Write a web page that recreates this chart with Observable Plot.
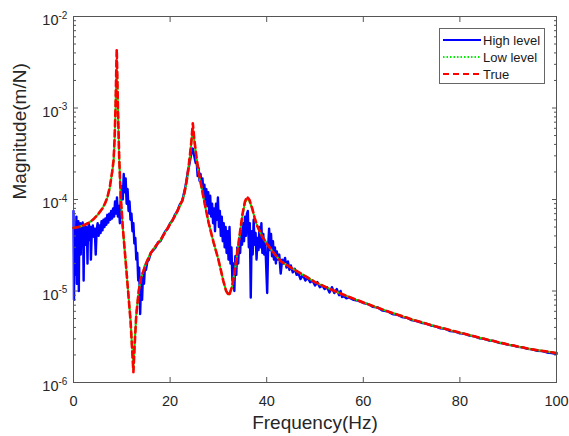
<!DOCTYPE html>
<html><head><meta charset="utf-8">
<script src="https://cdn.jsdelivr.net/npm/d3@7"></script>
<script src="https://cdn.jsdelivr.net/npm/@observablehq/plot@0.6"></script>
<style>
body{margin:0;background:#fff;font-family:"Liberation Sans",Arial,sans-serif;}
#wrap{position:relative;width:569px;height:436px;}
#legend{position:absolute;left:439px;top:28px;width:104px;height:54px;border:1px solid #666;background:#fff;}
.row{position:absolute;left:3px;height:17px;display:flex;align-items:center;font-size:13px;color:#1a1a1a;white-space:nowrap;}
.row svg{margin-right:2px;}
</style></head><body><div id="wrap"></div>
<script>
// ---- data ----
const seriesNames = ["High level", "Low level", "True"];
const xTicks = [0, 20, 40, 60, 80, 100];
const xTickLabels = ["0", "20", "40", "60", "80", "100"];
const yTicks = [1e-6, 1e-5, 1e-4, 1e-3, 1e-2];
const yTickBase = ["10", "10", "10", "10", "10"];
const yTickExp = ["-6", "-5", "-4", "-3", "-2"];
const xLabel = "Frequency(Hz)";
const yLabel = "Magnitude(m/N)";

const smoothFreq = [0,1,2,3,4,5,6,6.5,7,7.5,8,8.3,8.5,8.7,8.85,8.95,9.05,9.2,9.45,9.75,10.2,10.8,11.3,11.8,12.1,12.4,12.7,13,13.5,14,15,16,17,18,19,20,21,22,22.6,23,23.5,24,24.4,24.7,25,25.5,26,27,28,29,30,30.5,31,31.6,32.2,32.8,33.5,34,34.5,35,35.5,35.9,36.4,37,37.5,38,39,40,41,42,43,45,48,50,55,60,65,70,75,80,85,90,95,100];
const trueMag = [4.9e-5,5.0e-5,5.2e-5,5.5e-5,6.0e-5,6.8e-5,8.0e-5,9.0e-5,1.05e-4,1.35e-4,2.0e-4,2.7e-4,4.5e-4,1.0e-3,2.5e-3,4.4e-3,2.5e-3,1.0e-3,3.0e-4,1.15e-4,5.0e-5,2.1e-5,1.0e-5,4.8e-6,2.5e-6,1.3e-6,2.8e-6,5.5e-6,1.0e-5,1.4e-5,2.0e-5,2.6e-5,3.1e-5,3.6e-5,4.4e-5,5.4e-5,6.6e-5,8.5e-5,1.0e-4,1.2e-4,1.7e-4,2.7e-4,4.3e-4,6.8e-4,4.6e-4,2.8e-4,1.9e-4,1.0e-4,5.5e-5,3.4e-5,2.2e-5,1.7e-5,1.3e-5,1.0e-5,8.9e-6,1.1e-5,1.8e-5,2.8e-5,4.5e-5,7.0e-5,9.5e-5,1.07e-4,1.0e-4,8.0e-5,6.3e-5,5.2e-5,4.0e-5,3.3e-5,2.8e-5,2.4e-5,2.1e-5,1.8e-5,1.45e-5,1.25e-5,9.5e-6,7.5e-6,6.0e-6,4.9e-6,4.1e-6,3.5e-6,3.0e-6,2.6e-6,2.3e-6,2.1e-6];
const lowMag = [4.9e-5,5.0e-5,5.2e-5,5.5e-5,6.0e-5,6.8e-5,8.0e-5,9.0e-5,1.04e-4,1.33e-4,1.95e-4,2.6e-4,4.3e-4,9.5e-4,2.2e-3,3.3e-3,2.2e-3,9.5e-4,2.9e-4,1.12e-4,4.9e-5,2.1e-5,1.0e-5,4.9e-6,2.6e-6,1.4e-6,2.9e-6,5.6e-6,1.0e-5,1.4e-5,2.0e-5,2.6e-5,3.1e-5,3.6e-5,4.4e-5,5.4e-5,6.6e-5,8.4e-5,1.0e-4,1.18e-4,1.65e-4,2.6e-4,4.1e-4,6.1e-4,4.4e-4,2.7e-4,1.85e-4,9.8e-5,5.5e-5,3.4e-5,2.2e-5,1.7e-5,1.3e-5,1.0e-5,9.1e-6,1.1e-5,1.8e-5,2.8e-5,4.4e-5,6.8e-5,9.2e-5,1.02e-4,9.7e-5,7.9e-5,6.3e-5,5.2e-5,4.0e-5,3.3e-5,2.8e-5,2.4e-5,2.1e-5,1.8e-5,1.45e-5,1.25e-5,9.5e-6,7.5e-6,6.0e-6,4.9e-6,4.1e-6,3.5e-6,3.0e-6,2.6e-6,2.3e-6,2.1e-6];

const highFreq = [0,0.1,0.2,0.3,0.4,0.5,0.6,0.7,0.8,0.9,1.0,1.1,1.2,1.4,1.5,1.6,1.8,1.9,2.0,2.1,2.2,2.4,2.5,2.6,2.8,2.9,3.0,3.2,3.3,3.5,3.6,3.8,4.0,4.2,4.4,4.6,4.8,5.0,5.2,5.4,5.6,5.8,6.0,6.2,6.4,6.6,6.8,7.0,7.2,7.4,7.6,7.8,8.0,8.2,8.4,8.6,8.8,9.0,9.2,9.4,9.6,9.8,10.0,10.2,10.4,10.6,10.8,11.0,11.2,11.4,11.6,11.8,12.0,12.2,12.4,12.6,12.8,13.0,13.2,13.4,13.6,13.8,14.0,14.2,14.4,14.6,14.8,15.0,15.3,15.6,16.0,16.5,17,17.5,18,18.5,19,19.5,20,20.5,21,21.5,22,22.5,23,23.3,23.6,23.9,24.1,24.3,24.5,24.7,24.9,25.1,25.3,25.5,25.7,25.9,26.1,26.3,26.5,26.7,26.9,27.1,27.3,27.5,27.7,27.9,28.1,28.3,28.5,28.7,28.9,29.1,29.3,29.5,29.7,29.9,30.1,30.3,30.5,30.7,30.9,31.1,31.3,31.5,31.7,31.9,32.1,32.3,32.5,32.7,32.9,33.1,33.3,33.5,33.7,33.9,34.1,34.3,34.5,34.7,34.9,35.1,35.3,35.5,35.7,35.9,36.1,36.3,36.5,36.7,36.9,37.1,37.3,37.5,37.7,37.9,38.1,38.3,38.5,38.7,38.9,39.1,39.3,39.5,39.7,39.9,40.1,40.3,40.5,40.7,40.9,41.1,41.3,41.5,41.7,41.9,42.1,42.3,42.6,42.9,43.2,43.5,43.8,44.1,44.4,44.7,45.0,45.4,45.8,46.2,46.6,47.0,47.5,48.0,48.5,49.0,49.5,50.0,50.5,51.0,51.5,52.0,52.5,53.0,53.5,54.0,54.5,55.0,55.3,55.6,56.0,56.5,57,58,59,60,61,62,63,64,65,66,67,68,69,70,71,72,73,74,75,76,77,78,79,80,81,82,83,84,85,86,87,88,89,90,91,92,93,94,95,96,97,98,99,100];
const highMag = [7.5e-5,8.0e-6,5.0e-5,1.5e-5,4.8e-5,3.0e-5,6.5e-5,1.2e-5,5.0e-5,3.5e-5,5.8e-5,1.0e-5,4.5e-5,5.5e-5,2.5e-5,4.9e-5,3.8e-5,5.6e-5,4.0e-5,1.3e-5,4.6e-5,5.2e-5,3.2e-5,5.0e-5,4.2e-5,2.0e-5,4.8e-5,5.4e-5,3.6e-5,5.0e-5,2.2e-5,4.5e-5,5.2e-5,3.9e-5,4.8e-5,2.5e-5,4.7e-5,5.5e-5,4.0e-5,5.2e-5,4.3e-5,5.8e-5,4.6e-5,6.0e-5,5.0e-5,6.2e-5,5.3e-5,6.8e-5,5.6e-5,7.0e-5,6.0e-5,7.5e-5,6.2e-5,8.0e-5,6.5e-5,9.5e-5,7.0e-5,1.05e-4,6.5e-5,8.5e-5,5.5e-5,1.1e-4,1.4e-4,1.0e-4,1.9e-4,1.2e-4,1.7e-4,9.0e-5,1.3e-4,7.5e-5,9.5e-5,6.0e-5,7.0e-5,4.5e-5,5.5e-5,3.3e-5,3.8e-5,2.2e-5,2.6e-5,1.3e-5,1.8e-5,5.6e-6,1.3e-5,8.0e-6,1.6e-5,1.2e-5,1.9e-5,1.7e-5,2.1e-5,2.2e-5,2.6e-5,2.8e-5,3.0e-5,3.4e-5,3.5e-5,4.0e-5,4.5e-5,4.8e-5,5.5e-5,5.9e-5,6.8e-5,7.4e-5,8.8e-5,9.6e-5,1.25e-4,1.5e-4,1.9e-4,2.3e-4,2.6e-4,3.0e-4,3.3e-4,3.6e-4,3.2e-4,2.8e-4,2.5e-4,2.6e-4,1.8e-4,2.2e-4,1.6e-4,1.9e-4,1.4e-4,1.7e-4,1.2e-4,1.45e-4,9.5e-5,1.3e-4,8.5e-5,1.2e-4,7.0e-5,1.1e-4,6.5e-5,9.0e-5,5.5e-5,8.0e-5,4.5e-5,9.0e-5,6.0e-5,1.05e-4,5.0e-5,7.5e-5,4.0e-5,6.5e-5,3.5e-5,5.5e-5,3.0e-5,5.0e-5,2.6e-5,4.5e-5,2.2e-5,5.0e-5,2.0e-5,3.0e-5,1.3e-5,2.0e-5,1.0e-5,2.4e-5,1.5e-5,3.0e-5,2.0e-5,3.8e-5,2.6e-5,4.5e-5,3.2e-5,5.5e-5,3.5e-5,6.5e-5,4.0e-5,7.0e-5,7.5e-5,3.0e-5,5.5e-5,8.5e-6,4.5e-5,2.5e-5,6.0e-5,3.2e-5,4.3e-5,2.2e-5,3.8e-5,2.8e-5,5.0e-5,3.0e-5,5.5e-5,2.6e-5,4.2e-5,2.5e-5,3.5e-5,1.8e-5,9.5e-6,3.0e-5,4.8e-5,2.8e-5,4.2e-5,2.4e-5,3.5e-5,2.2e-5,3.0e-5,2.0e-5,2.7e-5,2.2e-5,2.5e-5,1.55e-5,2.2e-5,2.0e-5,2.3e-5,1.8e-5,2.1e-5,1.7e-5,1.9e-5,1.6e-5,1.75e-5,1.5e-5,1.55e-5,1.35e-5,1.5e-5,1.3e-5,1.4e-5,1.25e-5,1.3e-5,1.15e-5,1.25e-5,1.1e-5,1.15e-5,1.05e-5,1.1e-5,9.6e-6,1.1e-5,9.5e-6,1.05e-5,9.0e-6,1.0e-5,8.6e-6,8.8e-6,8.3e-6,8.5e-6,8.0e-6,7.8e-6,7.4e-6,7.2e-6,6.7e-6,6.6e-6,6.1e-6,6.0e-6,5.6e-6,5.5e-6,5.2e-6,5.1e-6,4.8e-6,4.7e-6,4.5e-6,4.4e-6,4.2e-6,4.1e-6,3.9e-6,3.85e-6,3.65e-6,3.6e-6,3.45e-6,3.4e-6,3.25e-6,3.2e-6,3.05e-6,3.0e-6,2.88e-6,2.85e-6,2.72e-6,2.68e-6,2.58e-6,2.55e-6,2.45e-6,2.42e-6,2.33e-6,2.3e-6,2.22e-6,2.2e-6,2.13e-6,2.1e-6,2.05e-6];

const colors = ["#0000ff", "#00ee00", "#ff0000"];

// ---- build tables ----
const high = highFreq.map((f, i) => ({f, v: highMag[i]}));
const low = smoothFreq.map((f, i) => ({f, v: lowMag[i]}));
const tru = smoothFreq.map((f, i) => ({f, v: trueMag[i]}));
const yMinor = [];
for (let k = -6; k < -2; k++) for (let m = 2; m <= 9; m++) yMinor.push(m * Math.pow(10, k));
const yLabels = yTicks.map((v, i) => ({v, base: yTickBase[i], exp: yTickExp[i]}));

const axisColor = "#555";
const textColor = "#262626";

const chart = Plot.plot({
  width: 569, height: 436,
  marginLeft: 73, marginRight: 13, marginTop: 16, marginBottom: 54,
  x: {domain: [0, 100]},
  y: {type: "log", domain: [1e-6, 1e-2]},
  style: {fontFamily: "'Liberation Sans', Arial, sans-serif", background: "white"},
  marks: [
    Plot.line(high, {x: "f", y: "v", stroke: colors[0], strokeWidth: 2.4}),
    Plot.line(low, {x: "f", y: "v", stroke: colors[1], strokeWidth: 2.2, strokeDasharray: "1.5,2"}),
    Plot.line(tru, {x: "f", y: "v", stroke: colors[2], strokeWidth: 2.6, strokeDasharray: "6,4"}),
    Plot.frame({stroke: axisColor}),
    Plot.axisX({anchor: "bottom", ticks: xTicks, tickSize: -5, tickPadding: 18, tickFormat: (d, i) => xTickLabels[i], fontSize: 14.5, stroke: axisColor, fill: textColor, label: null}),
    Plot.axisX({anchor: "top", ticks: xTicks, tickSize: -5, tickFormat: () => "", stroke: axisColor, label: null}),
    Plot.axisY({anchor: "left", ticks: yTicks, tickSize: -5, tickFormat: () => "", stroke: axisColor, label: null}),
    Plot.axisY({anchor: "left", ticks: yMinor, tickSize: -3, tickFormat: () => "", stroke: axisColor, label: null}),
    Plot.axisY({anchor: "right", ticks: yTicks, tickSize: -5, tickFormat: () => "", stroke: axisColor, label: null}),
    Plot.axisY({anchor: "right", ticks: yMinor, tickSize: -3, tickFormat: () => "", stroke: axisColor, label: null}),
    Plot.text(yLabels, {y: "v", frameAnchor: "left", text: "base", textAnchor: "end", dx: -15, dy: 4, fontSize: 14.5, fill: textColor}),
    Plot.text(yLabels, {y: "v", frameAnchor: "left", text: "exp", textAnchor: "start", dx: -15, dy: -1, fontSize: 10, fill: textColor}),
    Plot.text([xLabel], {frameAnchor: "bottom", dy: 46, fontSize: 19, fill: textColor}),
    Plot.text([yLabel], {frameAnchor: "left", dx: -54, rotate: -90, fontSize: 19, fill: textColor})
  ]
});
const wrap = document.getElementById("wrap");
wrap.appendChild(chart);

// legend
const legend = document.createElement("div");
legend.id = "legend";
const dashes = [null, "1.5,2", "6,4"];
seriesNames.forEach((name, i) => {
  const row = document.createElement("div");
  row.className = "row";
  row.style.top = (2.5 + i * 17) + "px";
  const da = dashes[i] ? ` stroke-dasharray="${dashes[i]}"` : "";
  row.innerHTML = `<svg width="38" height="6"><line x1="0" x2="38" y1="3" y2="3" stroke="${colors[i]}" stroke-width="2.2"${da}/></svg><span>${name}</span>`;
  legend.appendChild(row);
});
wrap.appendChild(legend);
</script>
</body></html>
